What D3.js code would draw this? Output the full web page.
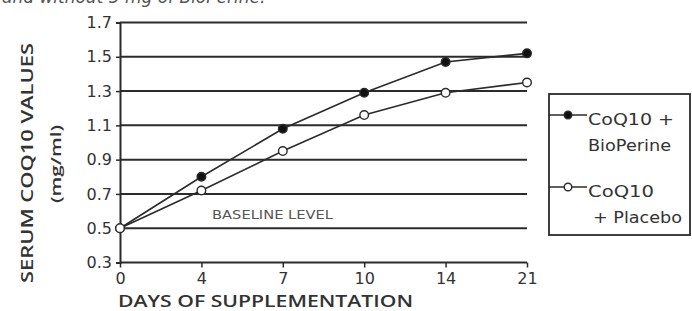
<!DOCTYPE html>
<html lang="en">
<head>
  <meta charset="UTF-8" />
  <title>Serum CoQ10 Values</title>
  <script src="https://d3js.org/d3.v7.min.js"></script>
  <style>
    body { margin: 0; background: #fff; }
    svg { display: block; font-family: "DejaVu Sans", sans-serif; }
  </style>
</head>
<body>
  <div id="chart"></div>
  <script>
    const days = ["0", "4", "7", "10", "14", "21"];
    const bioperine = [0.5, 0.80, 1.08, 1.29, 1.47, 1.52];
    const placebo = [0.5, 0.72, 0.95, 1.16, 1.29, 1.35];
    const yTicks = [0.3, 0.5, 0.7, 0.9, 1.1, 1.3, 1.5, 1.7];

    const W = 692, H = 311;
    const ink = "#2b2b2b";
    const titleFont = "'Open Sans', 'DejaVu Sans', sans-serif";

    const svg = d3.select("#chart").append("svg")
      .attr("width", W).attr("height", H);

    const x = d3.scalePoint().domain(days).range([120, 527]);
    const y = d3.scaleLinear().domain([0.3, 1.7]).range([262.5, 22.5]);

    // subtitle, cut off by the top edge as in the source
    svg.append("text")
      .attr("x", 2).attr("y", 3)
      .attr("fill", "#555")
      .style("font-size", "17px")
      .style("font-style", "italic")
      .text("and without 5 mg of BioPerine.");

    // gridlines
    svg.append("g").selectAll("line")
      .data(yTicks)
      .join("line")
      .attr("x1", x("0")).attr("x2", x("21"))
      .attr("y1", d => y(d)).attr("y2", d => y(d))
      .attr("stroke", ink).attr("stroke-width", 2);

    // left axis
    const yAxis = svg.append("g")
      .attr("transform", `translate(${x("0")},0)`)
      .call(d3.axisLeft(y).tickValues(yTicks).tickFormat(d3.format(".1f")).tickSize(4).tickPadding(4));
    yAxis.select(".domain").attr("stroke", ink).attr("stroke-width", 2);
    yAxis.selectAll(".tick line").attr("stroke", ink).attr("stroke-width", 1.5);
    yAxis.selectAll(".tick text").attr("fill", "#333").style("font-size", "16px")
      .style("font-family", "DejaVu Sans, sans-serif");

    // bottom axis
    const xAxis = svg.append("g")
      .attr("transform", `translate(0,${y(0.3)})`)
      .call(d3.axisBottom(x).tickSize(5).tickPadding(5));
    xAxis.select(".domain").remove();
    xAxis.selectAll(".tick line").attr("stroke", ink).attr("stroke-width", 1.5);
    xAxis.selectAll(".tick text").attr("fill", "#333").style("font-size", "16px")
      .style("font-family", "DejaVu Sans, sans-serif");

    // axis titles
    svg.append("text")
      .attr("transform", "translate(33,163) rotate(-90)")
      .attr("text-anchor", "middle")
      .attr("fill", "#333")
      .style("font-family", titleFont)
      .style("font-size", "16px").style("font-weight", 600)
      .attr("textLength", 240).attr("lengthAdjust", "spacingAndGlyphs")
      .text("SERUM COQ10 VALUES");
    svg.append("text")
      .attr("transform", "translate(61,164) rotate(-90)")
      .attr("text-anchor", "middle")
      .attr("fill", "#333")
      .style("font-family", titleFont)
      .style("font-size", "15px").style("font-weight", 600)
      .attr("textLength", 78).attr("lengthAdjust", "spacingAndGlyphs")
      .text("(mg/ml)");
    svg.append("text")
      .attr("x", 118).attr("y", 307)
      .attr("fill", "#333")
      .style("font-family", titleFont)
      .style("font-size", "16px").style("font-weight", 600)
      .attr("textLength", 295).attr("lengthAdjust", "spacingAndGlyphs")
      .text("DAYS OF SUPPLEMENTATION");

    svg.append("text")
      .attr("x", 212).attr("y", 219)
      .attr("fill", "#555")
      .style("font-size", "13px")
      .attr("textLength", 121).attr("lengthAdjust", "spacingAndGlyphs")
      .text("BASELINE LEVEL");

    // series
    const series = [
      { name: "bioperine", values: bioperine, fill: "#111" },
      { name: "placebo", values: placebo, fill: "#fff" }
    ];
    const line = d3.line().x((d, i) => x(days[i])).y(d => y(d));

    series.forEach(s => {
      svg.append("path")
        .datum(s.values)
        .attr("fill", "none")
        .attr("stroke", ink)
        .attr("stroke-width", 1.6)
        .attr("d", line);
    });
    series.forEach(s => {
      svg.append("g").selectAll("circle")
        .data(s.values)
        .join("circle")
        .attr("cx", (d, i) => x(days[i]))
        .attr("cy", d => y(d))
        .attr("r", 4.3)
        .attr("fill", s.fill)
        .attr("stroke", ink)
        .attr("stroke-width", 1.4);
    });

    // legend
    const lg = svg.append("g");
    lg.append("rect")
      .attr("x", 549).attr("y", 94).attr("width", 141).attr("height", 141)
      .attr("fill", "none").attr("stroke", ink).attr("stroke-width", 1.8);
    const legendItems = [
      { y: 115, fill: "#111", lines: ["CoQ10 +", "BioPerine"], dx: [0, 0], w: [86, 83] },
      { y: 187, fill: "#fff", lines: ["CoQ10", "+ Placebo"], dx: [0, 5], w: [66, 89] }
    ];
    legendItems.forEach(it => {
      lg.append("line")
        .attr("x1", 549).attr("x2", 587).attr("y1", it.y).attr("y2", it.y)
        .attr("stroke", ink).attr("stroke-width", 1.5);
      lg.append("circle")
        .attr("cx", 568).attr("cy", it.y).attr("r", 3.8)
        .attr("fill", it.fill).attr("stroke", ink).attr("stroke-width", 1.4);
      it.lines.forEach((t, k) => {
        lg.append("text")
          .attr("x", 588 + it.dx[k]).attr("y", it.y + 10 + k * 26)
          .attr("fill", "#333")
          .style("font-size", "16px")
          .attr("textLength", it.w[k]).attr("lengthAdjust", "spacingAndGlyphs")
          .text(t);
      });
    });
  </script>
</body>
</html>
